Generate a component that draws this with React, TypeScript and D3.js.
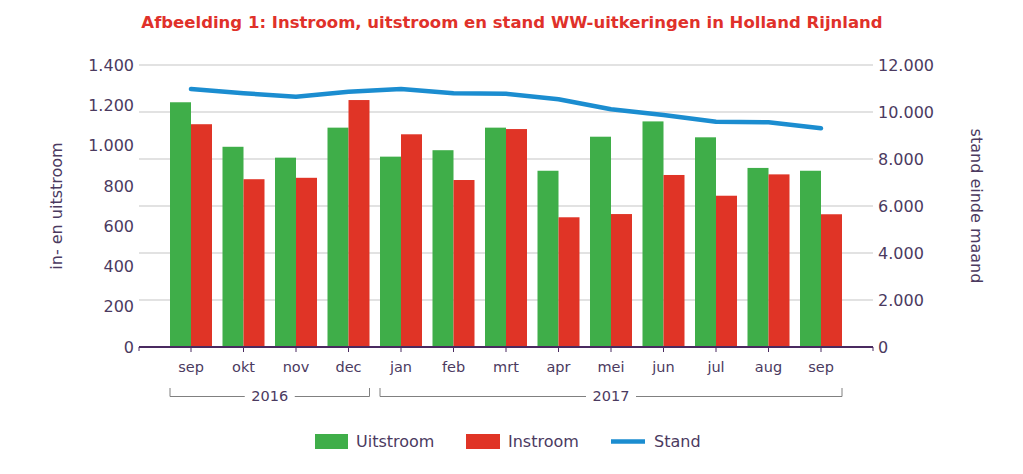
import React from "react";
import * as d3 from "d3";

const months = ["sep", "okt", "nov", "dec", "jan", "feb", "mrt", "apr", "mei", "jun", "jul", "aug", "sep "];
const monthLabels = ["sep", "okt", "nov", "dec", "jan", "feb", "mrt", "apr", "mei", "jun", "jul", "aug", "sep"];
const uitstroom = [1215, 994, 940, 1089, 945, 977, 1089, 875, 1044, 1120, 1041, 889, 875];
const instroom = [1106, 833, 840, 1226, 1056, 829, 1082, 644, 660, 854, 751, 857, 659];
const stand = [10979, 10796, 10651, 10864, 10979, 10796, 10774, 10540, 10115, 9872, 9587, 9562, 9306];
const leftTicks = [0, 200, 400, 600, 800, 1000, 1200, 1400];
const rightTicks = [0, 2000, 4000, 6000, 8000, 10000, 12000];
const years = [
  { label: "2016", from: 0, to: 3 },
  { label: "2017", from: 4, to: 12 },
];

const GREEN = "#3fae49";
const RED = "#e03426";
const BLUE = "#1b8dd0";
const TEXT = "#4b3a5f";
const AXIS = "#4a2a60";
const FONT = "DejaVu Sans, Verdana, sans-serif";

const fmt = (v: number) => d3.format(",")(v).replace(/,/g, ".");

export default function App() {
  const W = 1023, H = 474;
  const plotL = 139, plotR = 873, y0 = 347, yTop = 65;
  const x = d3.scaleBand<string>().domain(months).range([plotL + 25.75, plotR - 25.75]).padding(0);
  const inner = d3.scaleBand<string>().domain(["u", "i"]).range([0, x.bandwidth()]).paddingOuter(0.25).paddingInner(0);
  const yL = d3.scaleLinear().domain([0, 1400]).range([y0, yTop]);
  const yR = d3.scaleLinear().domain([0, 12000]).range([y0, yTop]);
  const cx = (i: number) => (x(months[i]) as number) + x.bandwidth() / 2;
  const line = d3.line<number>().x((_, i) => cx(i)).y((d) => yR(d));
  const half = inner.bandwidth();

  return (
    <svg width={W} height={H} style={{ position: "absolute", left: 0, top: 0, background: "#fff" }} fontFamily={FONT}>
      <text x={512} y={28} textAnchor="middle" fontWeight="bold" fontSize={16.5} fill="#e0312a">
        Afbeelding 1: Instroom, uitstroom en stand WW-uitkeringen in Holland Rijnland
      </text>

      {rightTicks.filter((t) => t > 0).map((t) => (
        <line key={t} x1={plotL} x2={plotR} y1={yR(t)} y2={yR(t)} stroke="#d9d9d9" strokeWidth={1.5} />
      ))}

      {months.map((m, i) => (
        <g key={m}>
          <rect x={(x(m) as number) + (inner("u") as number)} y={yL(uitstroom[i])} width={half} height={y0 - yL(uitstroom[i])} fill={GREEN} />
          <rect x={(x(m) as number) + (inner("i") as number)} y={yL(instroom[i])} width={half} height={y0 - yL(instroom[i])} fill={RED} />
        </g>
      ))}

      <path d={line(stand) as string} fill="none" stroke={BLUE} strokeWidth={4.5} strokeLinecap="round" strokeLinejoin="round" />

      <line x1={plotL} x2={plotR} y1={y0} y2={y0} stroke={AXIS} strokeWidth={2} />
      <line x1={plotL} x2={plotL} y1={y0} y2={y0 + 4} stroke={AXIS} strokeWidth={1} />
      <line x1={plotR} x2={plotR} y1={y0} y2={y0 + 4} stroke={AXIS} strokeWidth={1} />
      {months.map((m, i) => (
        <g key={"t" + m}>
          <line x1={cx(i)} x2={cx(i)} y1={y0} y2={y0 + 5} stroke={AXIS} strokeWidth={1} />
          <text x={cx(i)} y={372} textAnchor="middle" fontSize={14.5} fill={TEXT}>{monthLabels[i]}</text>
        </g>
      ))}

      {leftTicks.map((t) => (
        <text key={"l" + t} x={134} y={yL(t)} dy="0.36em" textAnchor="end" fontSize={16} fill={TEXT}>{fmt(t)}</text>
      ))}
      {rightTicks.map((t) => (
        <text key={"r" + t} x={878} y={yR(t)} dy="0.36em" textAnchor="start" fontSize={16} fill={TEXT}>{fmt(t)}</text>
      ))}

      <text transform={`translate(62,206) rotate(-90)`} textAnchor="middle" fontSize={16} fill={TEXT}>in- en uitstroom</text>
      <text transform={`translate(971,206) rotate(90)`} textAnchor="middle" fontSize={16} fill={TEXT}>stand einde maand</text>

      {years.map((yr) => {
        const a = cx(yr.from) - 21;
        const b = cx(yr.to) + 21;
        const mid = (a + b) / 2;
        const gap = 25;
        return (
          <g key={yr.label}>
            <path d={`M${a},388 V396.5 H${mid - gap} M${mid + gap},396.5 H${b} V388`} fill="none" stroke="#808080" strokeWidth={1} />
            <text x={mid} y={401} textAnchor="middle" fontSize={14.5} fill={TEXT}>{yr.label}</text>
          </g>
        );
      })}

      <rect x={315} y={434} width={33} height={15} fill={GREEN} />
      <text x={356} y={447} fontSize={16} fill={TEXT}>Uitstroom</text>
      <rect x={466} y={434} width={34} height={15} fill={RED} />
      <text x={508} y={447} fontSize={16} fill={TEXT}>Instroom</text>
      <line x1={611} x2={645} y1={441.5} y2={441.5} stroke={BLUE} strokeWidth={4.5} />
      <text x={654} y={447} fontSize={16} fill={TEXT}>Stand</text>
    </svg>
  );
}
